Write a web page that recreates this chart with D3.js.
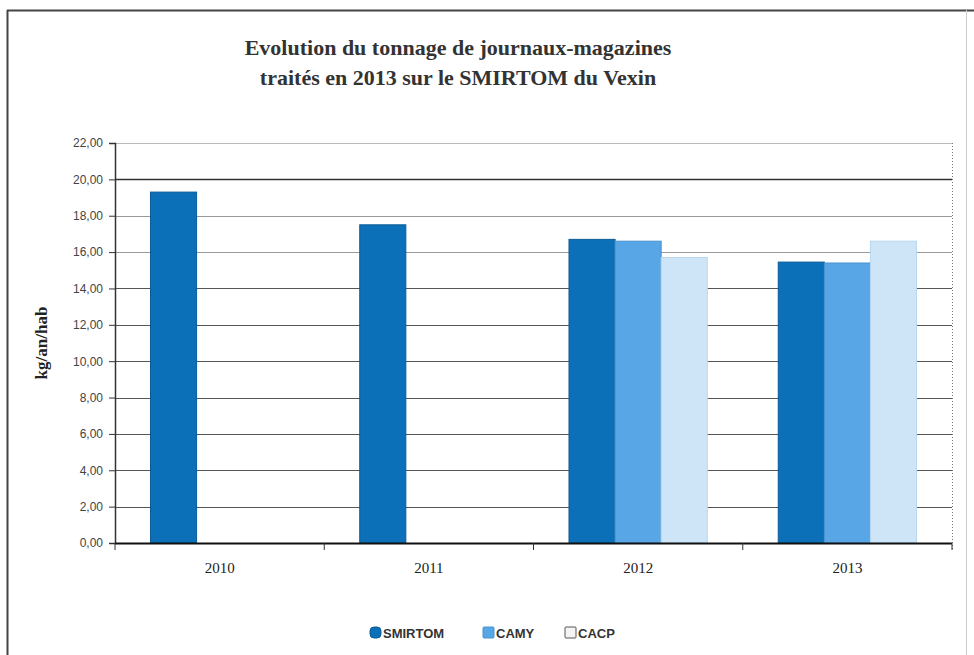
<!DOCTYPE html>
<html><head><meta charset="utf-8">
<script src="https://cdn.jsdelivr.net/npm/d3@7"></script>
<style>body{margin:0;background:#fff}svg{display:block}</style>
</head><body>
<svg id="c" width="974" height="655"></svg>
<script>
const years = ["2010", "2011", "2012", "2013"];
const seriesNames = ["SMIRTOM", "CAMY", "CACP"];
const smirtom = [19.3, 17.5, 16.7, 15.45];
const camy = [null, null, 16.6, 15.4];
const cacp = [null, null, 15.7, 16.6];
const yTicks = [0, 2, 4, 6, 8, 10, 12, 14, 16, 18, 20, 22];
const titleLines = ["Evolution du tonnage de journaux-magazines", "traités en 2013 sur le SMIRTOM  du Vexin"];
const yLabel = "kg/an/hab";
const colors = ["#0b70b8", "#58a6e6", "#cde5f7"];
const strokes = ["#0a5c98", "#4a92cf", "#b8d6ee"];

const svg = d3.select("#c");
const L = 115, R = 952, T = 143, B = 543;

// outer frame
svg.append("line").attr("x1", 7).attr("x2", 974).attr("y1", 10.5).attr("y2", 10.5).attr("stroke", "#444").attr("stroke-width", 2);
svg.append("line").attr("x1", 7.5).attr("x2", 7.5).attr("y1", 10).attr("y2", 655).attr("stroke", "#444").attr("stroke-width", 2);
svg.append("line").attr("x1", 966.5).attr("x2", 966.5).attr("y1", 10).attr("y2", 655).attr("stroke", "#ccc").attr("stroke-width", 1);

const x0 = d3.scaleBand().domain(years).range([L, R]).paddingInner(0).paddingOuter(0);
const x1 = d3.scaleBand().domain(seriesNames).range([0, x0.bandwidth()]).paddingInner(0).paddingOuter(0.77);
const y = d3.scaleLinear().domain([0, 22]).range([B, T]);

// gridlines
svg.append("g").selectAll("line").data(yTicks.filter(d => d > 0)).join("line")
  .attr("x1", L).attr("x2", R)
  .attr("y1", d => Math.round(y(d)) + 0.5).attr("y2", d => Math.round(y(d)) + 0.5)
  .attr("stroke", d => d === 20 ? "#333" : (d === 22 ? "#bbb" : (d >= 16 ? "#999" : "#555")))
  .attr("stroke-width", d => d === 20 ? 1.5 : 1.2);

// right plot border dotted
svg.append("line").attr("x1", R + 0.5).attr("x2", R + 0.5).attr("y1", T).attr("y2", B + 7)
  .attr("stroke", "#777").attr("stroke-dasharray", "1,2");

// bars
const seriesData = [smirtom, camy, cacp];
const rows = [];
seriesData.forEach((vals, si) => vals.forEach((v, yi) => { if (v != null) rows.push({ s: seriesNames[si], si, year: years[yi], v }); }));
svg.append("g").selectAll("rect").data(rows).join("rect")
  .attr("x", d => x0(d.year) + x1(d.s))
  .attr("width", x1.bandwidth())
  .attr("y", d => y(d.v))
  .attr("height", d => y(0) - y(d.v))
  .attr("fill", d => colors[d.si])
  .attr("stroke", d => strokes[d.si]).attr("stroke-width", 1);

// y axis
const yAxis = d3.axisLeft(y).tickValues(yTicks).tickSize(6).tickPadding(6)
  .tickFormat(d => d3.format(".2f")(d).replace(".", ","));
const gy = svg.append("g").attr("transform", `translate(${L},0)`).call(yAxis);
gy.select(".domain").attr("stroke", "#333").attr("stroke-width", 1.5);
gy.selectAll(".tick line").attr("stroke", "#333");
gy.selectAll("text").attr("font-family", "Arial, 'Liberation Sans', sans-serif").attr("font-size", 12).attr("fill", "#444");

// x axis
svg.append("line").attr("x1", L).attr("x2", R).attr("y1", B + 0.5).attr("y2", B + 0.5).attr("stroke", "#111").attr("stroke-width", 2);
svg.append("g").selectAll("line").data(years.concat(["end"])).join("line")
  .attr("x1", (d, i) => i < years.length ? x0(d) : R).attr("x2", (d, i) => i < years.length ? x0(d) : R)
  .attr("y1", B).attr("y2", B + 7).attr("stroke", "#333");
svg.append("g").selectAll("text").data(years).join("text")
  .attr("x", d => x0(d) + x0.bandwidth() / 2).attr("y", 573)
  .attr("text-anchor", "middle")
  .attr("font-family", "'Liberation Serif', 'Times New Roman', serif").attr("font-size", 15).attr("fill", "#222")
  .text(d => d);

// title
svg.append("g").selectAll("text").data(titleLines).join("text")
  .attr("x", 458).attr("y", (d, i) => 55 + i * 30)
  .attr("text-anchor", "middle")
  .attr("font-family", "'Liberation Serif', 'Times New Roman', serif").attr("font-weight", "bold")
  .attr("font-size", 22).attr("fill", "#333")
  .text(d => d);

// y label
svg.append("text").attr("transform", "translate(47,343) rotate(-90)")
  .attr("text-anchor", "middle")
  .attr("font-family", "'Liberation Serif', 'Times New Roman', serif").attr("font-weight", "bold")
  .attr("font-size", 17).attr("fill", "#222").text(yLabel);

// legend
const legX = [370, 483, 565];
const lg = svg.append("g").selectAll("g").data(seriesNames).join("g")
  .attr("transform", (d, i) => `translate(${legX[i]},627)`);
lg.append("rect").attr("width", 11).attr("height", 11).attr("rx", (d, i) => i === 0 ? 4 : 1)
  .attr("fill", (d, i) => i === 2 ? "#f4f4f4" : colors[i])
  .attr("stroke", (d, i) => i === 2 ? "#555" : strokes[i]);
lg.append("text").attr("x", 13).attr("y", 10.5)
  .attr("font-family", "Arial, 'Liberation Sans', sans-serif").attr("font-weight", "bold")
  .attr("font-size", 13).attr("fill", "#333").text(d => d);
</script>
</body></html>
